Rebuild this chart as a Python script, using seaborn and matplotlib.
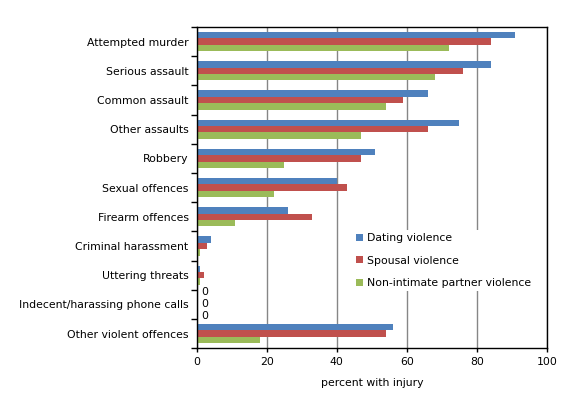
import pandas as pd
import matplotlib
matplotlib.use("Agg")
import matplotlib.pyplot as plt
import seaborn as sns
from matplotlib.ticker import FixedLocator

categories = ["Attempted murder", "Serious assault", "Common assault", "Other assaults",
              "Robbery", "Sexual offences", "Firearm offences", "Criminal harassment",
              "Uttering threats", "Indecent/harassing phone calls", "Other violent offences"]
dating = [91, 84, 66, 75, 51, 40, 26, 4, 1, 0, 56]
spousal = [84, 76, 59, 66, 47, 43, 33, 3, 2, 0, 54]
non_intimate = [72, 68, 54, 47, 25, 22, 11, 1, 1, 0, 18]
series = ["Dating violence", "Spousal violence", "Non-intimate partner violence"]
colors = ["#4F81BD", "#C0504D", "#9BBB59"]

df = pd.DataFrame({
    "category": categories * 3,
    "value": dating + spousal + non_intimate,
    "series": [series[0]] * 11 + [series[1]] * 11 + [series[2]] * 11,
})

sns.set_style("white")
plt.rcParams["font.family"] = ["DejaVu Sans"]
plt.rcParams["text.color"] = "black"
plt.rcParams["xtick.color"] = "black"
plt.rcParams["ytick.color"] = "black"
plt.rcParams["axes.labelcolor"] = "black"

fs = 7.8
fig = plt.figure(figsize=(5.69, 3.97), dpi=100)
ax = fig.add_axes([0.346, 0.123, 0.615, 0.809])

sns.barplot(data=df, x="value", y="category", hue="series", hue_order=series,
            palette=colors, orient="h", width=0.66, linewidth=0, saturation=1, ax=ax)

# "0" labels for empty bars, spread apart like the original
for i, cont in enumerate(ax.containers):
    labels = ["0" if b.get_width() == 0 else "" for b in cont]
    anns = ax.bar_label(cont, labels=labels, padding=3, fontsize=fs)
    for a in anns:
        a.xyann = (3, -(i - 1) * 4)

ax.set_xlim(0, 100)
ax.set_ylim(10.5, -0.5)
ax.set_xticks([0, 20, 40, 60, 80, 100])
ax.tick_params(axis="x", labelsize=fs, length=3, direction="out", bottom=True, width=1, pad=3)
ax.tick_params(axis="y", which="major", labelsize=fs, length=0, pad=6)
ax.yaxis.set_minor_locator(FixedLocator([i - 0.5 for i in range(12)]))
ax.tick_params(axis="y", which="minor", length=4, direction="out", left=True, width=1)
ax.grid(axis="x", color="#868686", linewidth=1)
ax.set_axisbelow(True)
for s in ax.spines.values():
    s.set_color("black")
    s.set_linewidth(1)
ax.set_ylabel("")
ax.set_xlabel("percent with injury", fontsize=fs, labelpad=8)

leg = ax.legend(loc="upper left", bbox_to_anchor=(0.43, 0.385), frameon=True,
                fontsize=fs, handlelength=0.6, handleheight=0.6, handletextpad=0.4,
                labelspacing=1.15, borderpad=0.3)
leg.get_frame().set_edgecolor("none")
leg.get_frame().set_facecolor("white")
leg.get_frame().set_alpha(1)

fig.savefig("out.png", dpi=100)
